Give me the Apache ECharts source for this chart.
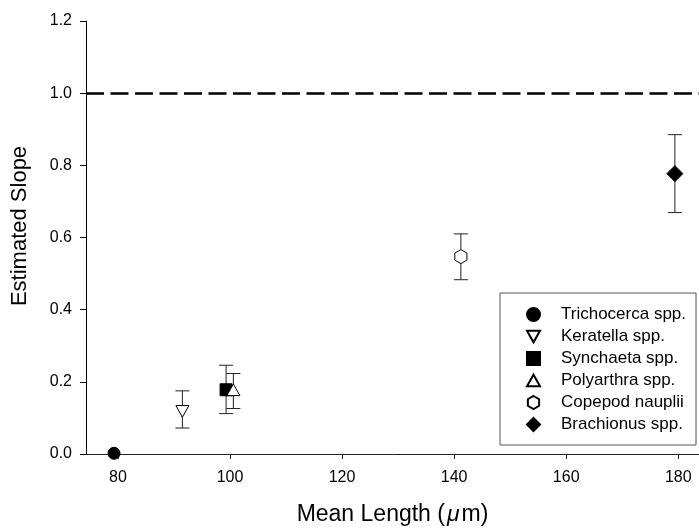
<!DOCTYPE html>
<html>
<head>
<meta charset="utf-8">
<script src="https://cdn.jsdelivr.net/npm/echarts@6/dist/echarts.min.js"></script>
<style>
  html, body { margin: 0; padding: 0; background: #fff; }
  #chart { width: 699px; height: 531px; }
</style>
</head>
<body>
<div id="chart"></div>
<script>
// data
const species = ['Trichocerca spp.', 'Keratella spp.', 'Synchaeta spp.', 'Polyarthra spp.', 'Copepod nauplii', 'Brachionus spp.'];
const meanLength = [79.3, 91.5, 99.3, 100.6, 141.2, 179.4];
const slope = [0.002, 0.118, 0.178, 0.178, 0.547, 0.777];
const lowerErr = [null, 0.072, 0.112, 0.126, 0.483, 0.669];
const upperErr = [null, 0.175, 0.246, 0.223, 0.610, 0.885];
const xTicks = [80, 100, 120, 140, 160, 180];

const hexagon = 'path://M0,-1L0.866,-0.5L0.866,0.5L0,1L-0.866,0.5L-0.866,-0.5Z';
const downTriangle = 'path://M-1,-0.9L1,-0.9L0,0.9Z';
const upTriangle = 'path://M0,-0.9L1,0.9L-1,0.9Z';
const markers = [
  { symbol: 'circle', size: 12, fill: '#000' },
  { symbol: downTriangle, size: 13, fill: '#fff' },
  { symbol: 'rect', size: 12, fill: '#000' },
  { symbol: upTriangle, size: 13, fill: '#fff' },
  { symbol: hexagon, size: 14, fill: '#fff' },
  { symbol: 'diamond', size: 16, fill: '#000' }
];

const FONT = 'Liberation Sans, Arial, sans-serif';
const chart = echarts.init(document.getElementById('chart'));

const errData = [];
meanLength.forEach((x, i) => {
  if (lowerErr[i] != null) errData.push([x, lowerErr[i], upperErr[i]]);
});

const pointSeries = species.map((name, i) => ({
  name: name,
  type: 'scatter',
  z: 5,
  symbol: markers[i].symbol,
  symbolSize: markers[i].size,
  symbolKeepAspect: true,
  itemStyle: { color: markers[i].fill, borderColor: '#000', borderWidth: 1, opacity: 1 },
  emphasis: { disabled: true },
  data: [[meanLength[i], slope[i]]]
}));

const option = {
  animation: false,
  backgroundColor: '#fff',
  grid: { left: 86, right: 0, top: 21, bottom: 76 },
  xAxis: {
    type: 'value',
    min: 74.3,
    max: 183.7,
    name: '{t|Mean Length (}{i|\u03bc}{t|m)}',
    nameLocation: 'middle',
    nameGap: 49,
    nameTextStyle: {
      rich: {
        t: { fontFamily: FONT, fontSize: 23, color: '#000' },
        i: { fontFamily: FONT, fontSize: 23, fontStyle: 'italic', color: '#000', padding: [0, 2, 0, 2] }
      }
    },
    axisLine: { lineStyle: { color: '#222', width: 1 } },
    axisTick: { show: true, length: 5, customValues: xTicks, lineStyle: { color: '#222' } },
    axisLabel: { customValues: xTicks, margin: 16, fontFamily: FONT, fontSize: 16, color: '#000' },
    splitLine: { show: false }
  },
  yAxis: {
    type: 'value',
    min: 0,
    max: 1.2,
    interval: 0.2,
    axisLine: { show: true, lineStyle: { color: '#000', width: 1 } },
    axisTick: { show: true, length: 6, lineStyle: { color: '#000' } },
    axisLabel: { margin: 14, fontFamily: FONT, fontSize: 16, color: '#000', formatter: v => v.toFixed(1) },
    splitLine: { show: false }
  },
  graphic: [{
    type: 'text',
    x: 20,
    y: 226,
    rotation: Math.PI / 2,
    style: {
      text: 'Estimated Slope',
      font: '22px ' + FONT,
      fill: '#000',
      textAlign: 'center',
      textVerticalAlign: 'middle'
    }
  }],
  legend: {
    orient: 'vertical',
    left: 500,
    top: 293,
    padding: [13, 10, 12, 26],
    itemWidth: 13,
    itemHeight: 13,
    itemGap: 5,
    symbolKeepAspect: true,
    borderColor: '#555',
    borderWidth: 1,
    backgroundColor: '#fff',
    textStyle: { fontFamily: FONT, fontSize: 17, color: '#000', padding: [0, 0, 0, 16] },
    data: species
  },
  series: [
    {
      type: 'custom',
      name: 'error',
      z: 2,
      silent: true,
      data: errData,
      renderItem: function (params, api) {
        const x = api.value(0);
        const lo = api.coord([x, api.value(1)]);
        const hi = api.coord([x, api.value(2)]);
        const w = 7;
        const style = { stroke: '#222', lineWidth: 1 };
        return {
          type: 'group',
          children: [
            { type: 'line', shape: { x1: lo[0], y1: lo[1], x2: hi[0], y2: hi[1] }, style: style },
            { type: 'line', shape: { x1: hi[0] - w, y1: hi[1], x2: hi[0] + w, y2: hi[1] }, style: style },
            { type: 'line', shape: { x1: lo[0] - w, y1: lo[1], x2: lo[0] + w, y2: lo[1] }, style: style }
          ]
        };
      },
      markLine: {
        silent: true,
        symbol: 'none',
        label: { show: false },
        lineStyle: { color: '#000', width: 2.5, type: [18, 6.5] },
        data: [{ yAxis: 1.0 }]
      }
    }
  ].concat(pointSeries)
};

chart.setOption(option);
</script>
</body>
</html>
